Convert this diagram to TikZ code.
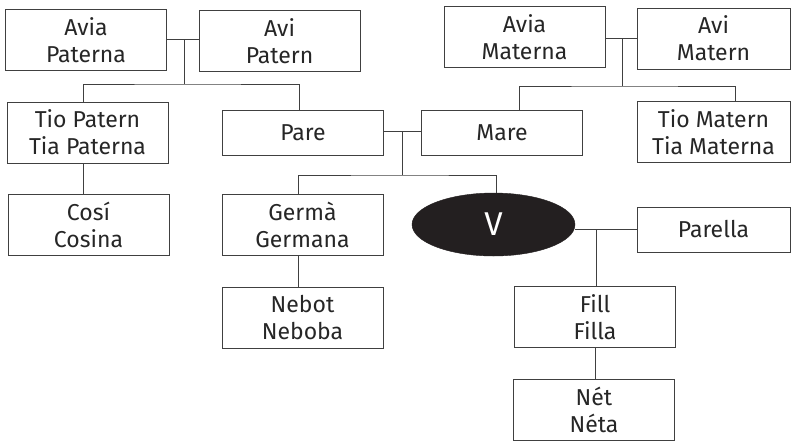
\documentclass[tikz,border=0pt]{standalone}
\usepackage{fontspec}
\setmainfont{Fira Sans}
\usepackage{tikz}
\usetikzlibrary{shapes.geometric,positioning}

\definecolor{linegray}{RGB}{64,64,64}
\definecolor{egoblack}{RGB}{35,31,32}

\tikzset{
    person/.style={rectangle, draw=linegray, line width=0.9pt, minimum width=161pt, minimum height=61pt, inner sep=0pt, align=center, text=black!85, font=\fontsize{23}{27}\selectfont},
    single/.style={person, minimum height=45pt},
    link/.style={draw=linegray, line width=0.9pt}
}

\begin{document}
\begin{tikzpicture}[x=1pt, y=-1pt]
    \useasboundingbox (0,0) rectangle (791,440);

    % grandparents
    \node (aviaP) [person] at (86,40) {Avia\\Paterna};
    \node (aviP) [person] at (279.5,41) {Avi\\Patern};
    \node (aviaM) [person] at (524.5,37) {Avia\\Materna};
    \node (aviM) [person, minimum width=153pt] at (713.5,38.5) {Avi\\Matern};

    % parents and uncles
    \node (tioP) [person] at (87.5,132.5) {Tio Patern\\Tia Paterna};
    \node (pare) [single] at (303,132.5) {Pare};
    \node (mare) [single] at (502,132.5) {Mare};
    \node (tioM) [person, minimum width=153pt] at (713.5,132) {Tio Matern\\Tia Materna};

    % ego's generation
    \node (cosi) [person] at (88.5,225) {Cosí\\Cosina};
    \node (germa) [person] at (302.5,224.5) {Germà\\Germana};
    \node (ego) [ellipse, fill=egoblack, draw=egoblack, minimum width=163pt, minimum height=63pt, inner sep=0pt, text=white, font=\fontsize{33}{33}\selectfont] at (493.5,224.5) {V};
    \node (parella) [single, minimum width=153pt] at (713.5,229.5) {Parella};

    % descendants
    \node (nebot) [person] at (302.5,317.5) {Nebot\\Neboba};
    \node (fill) [person] at (595,317) {Fill\\Filla};
    \node (net) [person] at (594,409.5) {Nét\\Néta};

    % joints
    \coordinate (jP) at (184,39);
    \coordinate (busP) at (184,84);
    \coordinate (jM) at (622,38);
    \coordinate (busM) at (622,86);
    \coordinate (jPM) at (402,131);
    \coordinate (busS) at (402,175);
    \coordinate (jVP) at (596,230);

    % paternal side
    \draw[link] (aviaP.east |- jP) -- (aviP.west |- jP);
    \draw[link] (jP) -- (busP);
    \draw[link] ([xshift=-4pt]tioP.north) |- (busP) -| ([xshift=-4pt]pare.north);
    \draw[link] ([xshift=-4pt]tioP.south) -- ([xshift=-4pt]tioP.south |- cosi.north);

    % maternal side
    \draw[link] (aviaM.east |- jM) -- (aviM.west |- jM);
    \draw[link] (jM) -- (busM);
    \draw[link] ([xshift=17pt]mare.north) |- (busM) -| ([xshift=22pt]tioM.north);

    % siblings
    \draw[link] (pare.east |- jPM) -- (mare.west |- jPM);
    \draw[link] (jPM) -- (busS);
    \draw[link] ([xshift=-4pt]germa.north) |- (busS) -| ([xshift=3pt]ego.north);
    \draw[link] ([xshift=-4pt]germa.south) -- ([xshift=-4pt]germa.south |- nebot.north);

    % partner and children
    \draw[link] (parella.west) -- (parella.west -| ego.east);
    \draw[link] (jVP) -- (jVP |- fill.north);
    \draw[link] (fill.south) -- (fill.south |- net.north);
\end{tikzpicture}
\end{document}
